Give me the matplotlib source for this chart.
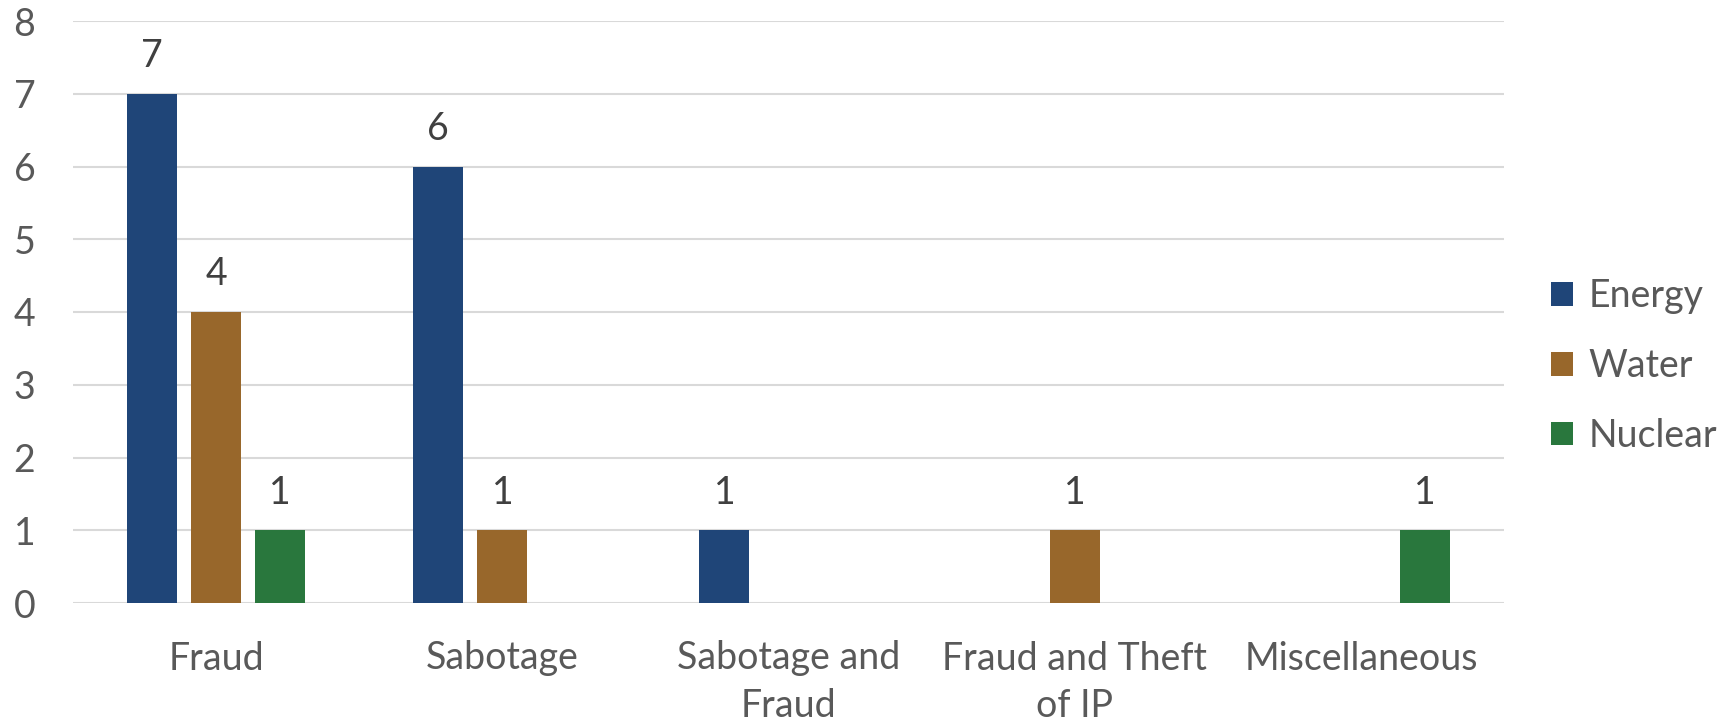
import numpy as np
import matplotlib.pyplot as plt

plt.rcParams['font.family'] = ['Lato', 'DejaVu Sans']

categories = ['Fraud', 'Sabotage', 'Sabotage and\nFraud', 'Fraud and Theft\nof IP', 'Miscellaneous']
series = ['Energy', 'Water', 'Nuclear']
energy = [7, 6, 1, 0, 0]
water = [4, 1, 0, 1, 0]
nuclear = [1, 0, 0, 0, 1]
colors = ['#1F4578', '#98672B', '#29773D']

fig = plt.figure(figsize=(17.33, 7.27), dpi=100)
ax = fig.add_axes([73 / 1733, 1 - 603 / 727, (1504 - 73) / 1733, (603 - 21) / 727])

x = np.arange(len(categories))
width = 0.175
step = 0.224
for k, (name, vals, c) in enumerate(zip(series, [energy, water, nuclear], colors)):
    pos = x + (k - 1) * step
    for xi, v in zip(pos, vals):
        if v == 0:
            continue
        ax.bar(xi, v, width, color=c, zorder=3)
        ax.text(xi, v + 0.27, str(v), ha='center', va='bottom',
                fontsize=27, color='#404040')
    # legend handle
    ax.bar(0, 0, 0, color=c, label=name)

ax.set_xlim(-0.5, len(categories) - 0.5)
ax.set_ylim(0, 8)
ax.set_yticks(range(9))
ax.yaxis.grid(True, color='#D9D9D9', linewidth=1.5, zorder=0)
ax.set_axisbelow(True)
for s in ax.spines.values():
    s.set_visible(False)
ax.tick_params(axis='both', length=0, labelsize=27, labelcolor='#595959')
ax.tick_params(axis='y', pad=27)
ax.tick_params(axis='x', pad=27)
ax.set_xticks(x)
ax.set_xticklabels(categories, linespacing=1.4)

leg = fig.legend(loc='center left', bbox_to_anchor=(1551 / 1733, 1 - 366 / 727),
                 frameon=False, fontsize=27, handlelength=0.6, handleheight=0.6,
                 handletextpad=0.4, labelspacing=0.9, borderpad=0, borderaxespad=0,
                 labelcolor='#595959')

fig.savefig('out.png', dpi=100)
